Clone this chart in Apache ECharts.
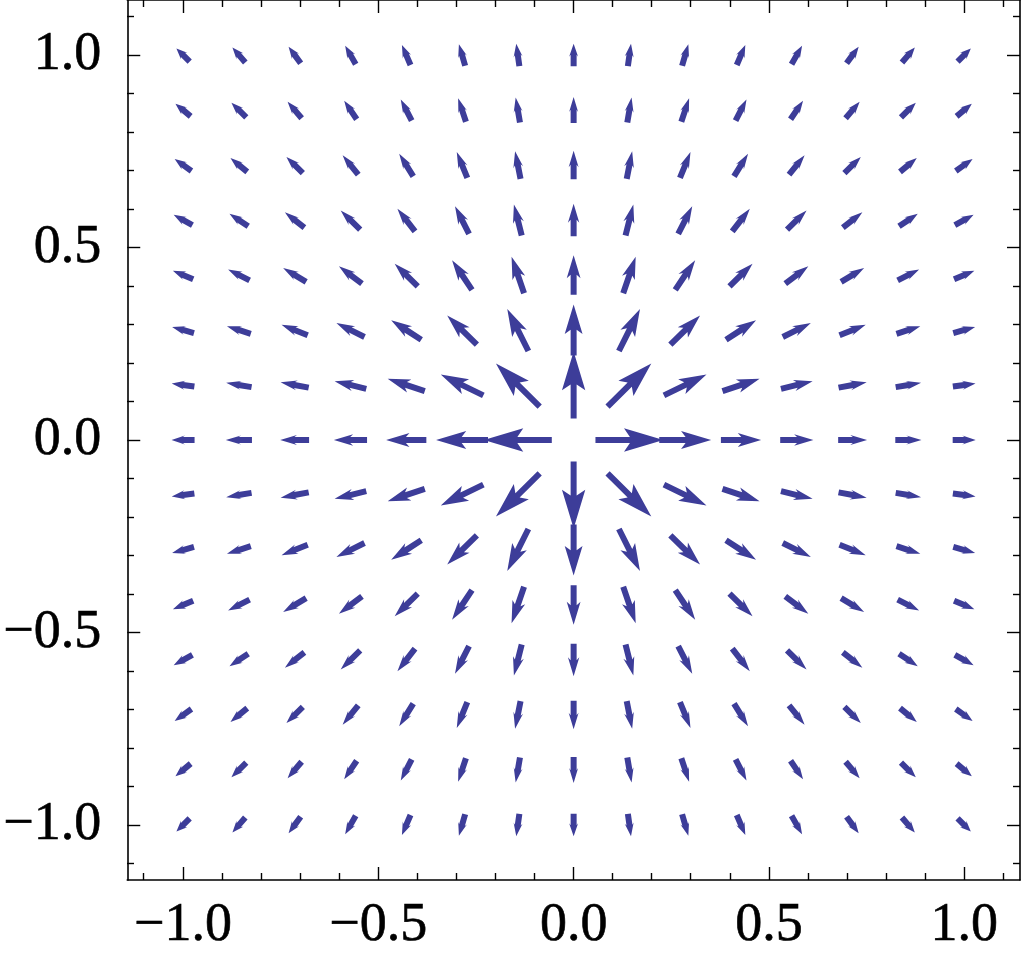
<!DOCTYPE html>
<html><head><meta charset="utf-8">
<script src="https://cdn.jsdelivr.net/npm/echarts@6/dist/echarts.min.js"></script>
<style>html,body{margin:0;padding:0;background:#fff}#chart{width:1024px;height:979px}</style>
</head><body><div id="chart"></div>
<script>
// grid sample positions (15 x 15 points from -1 to 1)
const gridX = [-1, -0.8571, -0.7143, -0.5714, -0.4286, -0.2857, -0.1429, 0, 0.1429, 0.2857, 0.4286, 0.5714, 0.7143, 0.8571, 1];
const gridY = [-1, -0.8571, -0.7143, -0.5714, -0.4286, -0.2857, -0.1429, 0, 0.1429, 0.2857, 0.4286, 0.5714, 0.7143, 0.8571, 1];
// vector components read for one quadrant (row = steps from centre in y, column = steps from centre in x)
const quadU = [
  [0, 0.174, 0.133, 0.103, 0.085, 0.074, 0.067, 0.059],
  [0, 0.112, 0.109, 0.095, 0.081, 0.072, 0.065, 0.058],
  [0, 0.054, 0.076, 0.077, 0.072, 0.067, 0.061, 0.056],
  [0, 0.032, 0.051, 0.059, 0.059, 0.059, 0.055, 0.052],
  [0, 0.020, 0.036, 0.045, 0.050, 0.050, 0.048, 0.048],
  [0, 0.014, 0.027, 0.036, 0.040, 0.042, 0.043, 0.043],
  [0, 0.011, 0.020, 0.028, 0.032, 0.036, 0.038, 0.039],
  [0, 0.008, 0.016, 0.022, 0.027, 0.031, 0.033, 0.034]
];
const quadV = [
  [0, 0, 0, 0, 0, 0, 0, 0],
  [0.174, 0.112, 0.054, 0.032, 0.020, 0.014, 0.011, 0.008],
  [0.133, 0.109, 0.076, 0.051, 0.036, 0.027, 0.020, 0.016],
  [0.103, 0.095, 0.077, 0.059, 0.045, 0.036, 0.028, 0.022],
  [0.085, 0.081, 0.072, 0.059, 0.050, 0.040, 0.032, 0.027],
  [0.074, 0.072, 0.067, 0.059, 0.050, 0.042, 0.036, 0.031],
  [0.067, 0.065, 0.061, 0.055, 0.048, 0.043, 0.038, 0.033],
  [0.059, 0.058, 0.056, 0.052, 0.048, 0.043, 0.039, 0.034]
];
const majorTicks = [-1, -0.5, 0, 0.5, 1];
const majorLabels = ['\u22121.0', '\u22120.5', '0.0', '0.5', '1.0'];
const minorTicks = [-1.1, -0.9, -0.8, -0.7, -0.6, -0.4, -0.3, -0.2, -0.1, 0.1, 0.2, 0.3, 0.4, 0.6, 0.7, 0.8, 0.9, 1.1];

const AXMIN = -8 / 7, AXMAX = 8 / 7;
const arrowColor = '#3d3d99';

// build the full field by mirroring the quadrant (picture is symmetric)
const data = [];
const c = 7;
for (let r = 0; r < gridY.length; r++) {
  for (let k = 0; k < gridX.length; k++) {
    const i = Math.abs(k - c), j = Math.abs(r - c);
    if (i === 0 && j === 0) continue;
    const u = Math.sign(k - c) * quadU[j][i];
    const v = Math.sign(r - c) * quadV[j][i];
    data.push([gridX[k], gridY[r], u, v]);
  }
}

function labelFmt(val) {
  for (let i = 0; i < majorTicks.length; i++) if (Math.abs(val - majorTicks[i]) < 1e-6) return majorLabels[i];
  return '';
}

function renderArrow(params, api) {
  const x = api.value(0), y = api.value(1), u = api.value(2), v = api.value(3);
  const p0 = api.coord([x - u / 2, y - v / 2]);
  const p1 = api.coord([x + u / 2, y + v / 2]);
  const dx = p1[0] - p0[0], dy = p1[1] - p0[1];
  const L = Math.hypot(dx, dy);
  if (L < 1e-6) return null;
  const ux = dx / L, uy = dy / L, nx = -uy, ny = ux;
  const hl = 0.58 * L, hw = Math.max(0.3 * hl, 4.5), w = 3.0, notch = 0.15 * hl;
  const pt = (s, n) => [p0[0] + ux * s + nx * n, p0[1] + uy * s + ny * n];
  const points = [pt(0, w), pt(L - hl + notch, w), pt(L - hl, hw), pt(L, 0), pt(L - hl, -hw), pt(L - hl + notch, -w), pt(0, -w)];
  return { type: 'polygon', shape: { points }, style: { fill: arrowColor } };
}

const font = { fontFamily: 'Liberation Serif', fontSize: 54, color: '#000', textBorderColor: '#000', textBorderWidth: 0.6 };
const lineStyle = { color: '#000', width: 1.6 };
const tickStyle = { color: '#000', width: 1.4 };

function xAx(gridIndex, position, ticks, len, withLabel, withLine) {
  return {
    type: 'value', gridIndex, position, min: AXMIN, max: AXMAX,
    axisLine: { show: withLine, onZero: false, lineStyle },
    axisTick: { show: true, inside: true, length: len, customValues: ticks, lineStyle: tickStyle },
    axisLabel: withLabel ? Object.assign({ show: true, customValues: majorTicks, formatter: labelFmt, margin: 19, hideOverlap: false }, font) : { show: false },
    splitLine: { show: false }
  };
}
function yAx(gridIndex, position, ticks, len, withLabel, withLine) {
  return {
    type: 'value', gridIndex, position, min: AXMIN, max: AXMAX,
    axisLine: { show: withLine, onZero: false, lineStyle },
    axisTick: { show: true, inside: true, length: len, customValues: ticks, lineStyle: tickStyle },
    axisLabel: withLabel ? Object.assign({ show: true, customValues: majorTicks, formatter: labelFmt, margin: 26, hideOverlap: false }, font) : { show: false },
    splitLine: { show: false }
  };
}

const gridRect = { left: 127, right: 4, top: 0, bottom: 99, containLabel: false };
const chart = echarts.init(document.getElementById('chart'), null, { renderer: 'canvas' });
chart.setOption({
  animation: false,
  backgroundColor: '#fff',
  grid: [Object.assign({}, gridRect), Object.assign({}, gridRect)],
  xAxis: [
    xAx(0, 'bottom', majorTicks, 13, true, true),
    xAx(0, 'top', majorTicks, 13, false, true),
    xAx(1, 'bottom', minorTicks, 7, false, false),
    xAx(1, 'top', minorTicks, 7, false, false)
  ],
  yAxis: [
    yAx(0, 'left', majorTicks, 13, true, true),
    yAx(0, 'right', majorTicks, 13, false, true),
    yAx(1, 'left', minorTicks, 7, false, false),
    yAx(1, 'right', minorTicks, 7, false, false)
  ],
  series: [{
    type: 'custom',
    coordinateSystem: 'cartesian2d',
    xAxisIndex: 0, yAxisIndex: 0,
    renderItem: renderArrow,
    encode: { x: 0, y: 1 },
    clip: false,
    data: data
  }]
});
</script></body></html>
